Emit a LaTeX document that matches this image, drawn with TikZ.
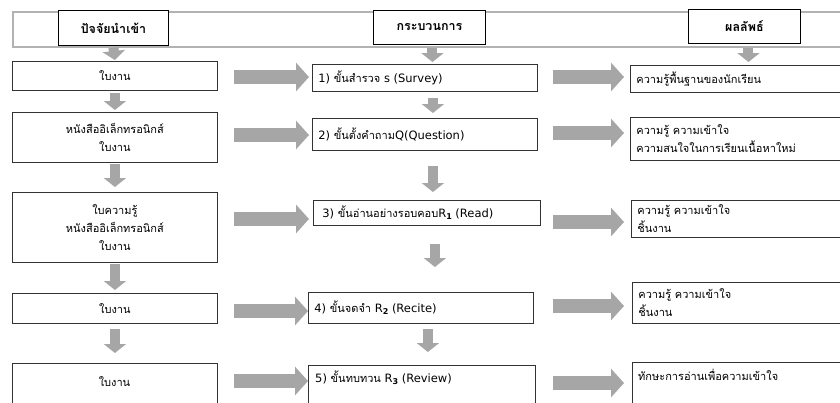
\documentclass[tikz,border=0pt]{standalone}
\usepackage{fontspec}
\setmainfont[Script=Thai]{Loma}
\newfontfamily\latfont{DejaVu Sans}
\newcommand{\lat}[1]{{\latfont\fontsize{11.5}{18}\selectfont #1}}
\newcommand{\subn}[1]{\raisebox{-2.2pt}{\latfont\fontsize{8}{8}\selectfont\bfseries #1}}
\usetikzlibrary{arrows.meta}
\definecolor{agray}{HTML}{A6A6A6}
\begin{document}
\begin{tikzpicture}[x=1pt,y=-1pt,
  box/.style={draw=black!80, line width=0.8pt, fill=white, inner sep=0pt, anchor=north west,
    font=\fontsize{11}{18}\selectfont},
  cbox/.style={box, align=center},
  lbox/.style={box, align=left, text width=#1, inner xsep=6pt},
  hdr/.style={draw=black, line width=0.9pt, fill=white, inner sep=0pt, anchor=north west,
    font=\fontsize{12.5}{15}\selectfont\bfseries},
  txt/.style={inner sep=0pt, font=\fontsize{11}{18}\selectfont},
  harrow/.style={draw=agray, line width=14pt, -{Triangle[length=13pt,width=28pt]}},
  varrow/.style={draw=agray, line width=10pt, -{Triangle[length=9pt,width=22pt]}},
]
\useasboundingbox (0,0) rectangle (840,402);
\clip (0,0) rectangle (840,402);
\fill[white] (0,0) rectangle (840,402);

% banner and headers
\node[draw=gray!60, line width=1.6pt, anchor=north west, minimum width=840pt, minimum height=35pt, inner sep=0pt] (banner) at (12,11) {};
\node[hdr, minimum width=110pt, minimum height=35pt] (h1) at (58,10) {ปัจจัยนำเข้า};
\node[hdr, minimum width=112pt, minimum height=34pt] (h2) at (373,10) {กระบวนการ};
\node[hdr, minimum width=112pt, minimum height=34pt] (h3) at (688,9) {ผลลัพธ์};

% left column
\node[cbox, minimum width=205pt, minimum height=29pt] (l1) at (12,61) {ใบงาน};
\node[cbox, minimum width=205pt, minimum height=50pt] (l2) at (12,112) {หนังสืออิเล็กทรอนิกส์\\ใบงาน};
\node[cbox, minimum width=205pt, minimum height=70pt] (l3) at (12,192) {ใบความรู้\\หนังสืออิเล็กทรอนิกส์\\ใบงาน};
\node[cbox, minimum width=205pt, minimum height=30pt] (l4) at (12,293) {ใบงาน};
\node[cbox, minimum width=205pt, minimum height=60pt] (l5) at (12,363) {};
\node[txt] (l5t) at (114.5,382) {ใบงาน};

% middle column
\node[lbox=213pt, minimum height=27pt] (m1) at (312,64) {\lat{1)} ขั้นสำรวจ \lat{s (Survey)}};
\node[lbox=213pt, minimum height=32pt] (m2) at (312,118) {\lat{2)} ขั้นตั้งคำถาม\lat{Q(Question)}};
\node[lbox=209pt, minimum height=25pt, inner xsep=9pt] (m3) at (313,200) {\lat{3)} ขั้นอ่านอย่างรอบคอบ\lat{R\subn{1} (Read)}};
\node[lbox=213pt, minimum height=31pt] (m4) at (308,292) {\lat{4)} ขั้นจดจำ \lat{R\subn{2} (Recite)}};
\node[box, minimum width=227pt, minimum height=60pt] (m5) at (308,365) {};
\node[txt, anchor=west] (m5t) at (315,378) {\lat{5)} ขั้นทบทวน \lat{R\subn{3} (Review)}};

% right column
\node[lbox=220pt, minimum height=27pt] (r1) at (630,65) {ความรู้พื้นฐานของนักเรียน};
\node[lbox=220pt, minimum height=43pt] (r2) at (630,117) {ความรู้ ความเข้าใจ\\ความสนใจในการเรียนเนื้อหาใหม่};
\node[lbox=220pt, minimum height=37pt] (r3) at (631,200) {ความรู้ ความเข้าใจ\\ชิ้นงาน};
\node[lbox=220pt, minimum height=41pt] (r4) at (632,282) {ความรู้ ความเข้าใจ\\ชิ้นงาน};
\node[box, minimum width=230pt, minimum height=60pt] (r5) at (632,362) {};
\node[txt, anchor=west] (r5t) at (638,375) {ทักษะการอ่านเพื่อความเข้าใจ};

% header down arrows
\draw[varrow, shorten >=1pt] (h1.south |- banner.south) -- (l1.north);
\draw[varrow, shorten >=2pt] ([xshift=3pt]h2.south |- banner.south) -- ([xshift=3pt]h2.south |- m1.north);
\draw[varrow, shorten >=3pt] ([xshift=4pt]h3.south |- banner.south) -- ([xshift=4pt]h3.south |- r1.north);

% left down arrows
\draw[varrow, shorten <=2pt, shorten >=2pt] (l1.south) -- (l2.north);
\draw[varrow, shorten <=1pt, shorten >=5pt] (l2.south) -- (l3.north);
\draw[varrow, shorten <=1pt, shorten >=3pt] (l3.south) -- (l4.north);
\draw[varrow, shorten <=5pt, shorten >=10pt] (l4.south) -- (l5.north);

% middle down arrows
\draw[varrow, shorten <=6pt, shorten >=5pt] ([xshift=8pt]m1.south) -- ([xshift=8pt]m1.south |- m2.north);
\draw[varrow, shorten <=15pt, shorten >=8pt] ([xshift=8pt]m2.south) -- ([xshift=8pt]m2.south |- m3.north);
\draw[varrow, shorten <=18pt, shorten >=25pt] ([xshift=8pt]m3.south) -- ([xshift=8pt]m3.south |- m4.north);
\draw[varrow, shorten <=5pt, shorten >=13pt] ([xshift=7pt]m4.south) -- ([xshift=7pt]m4.south |- m5.north);

% left -> middle arrows
\draw[harrow, shorten <=16pt, shorten >=3pt] (l1.east |- 0,77) -- (m1.west |- 0,77);
\draw[harrow, shorten <=16pt, shorten >=3pt] (l2.east |- 0,135) -- (m2.west |- 0,135);
\draw[harrow, shorten <=16pt, shorten >=4pt] (l3.east |- 0,219) -- (m3.west |- 0,219);
\draw[harrow, shorten <=16pt, shorten >=0pt] (l4.east |- 0,311) -- (m4.west |- 0,311);
\draw[harrow, shorten <=16pt, shorten >=0pt] (l5.east |- 0,381) -- (m5.west |- 0,381);

% middle -> right arrows
\draw[harrow, shorten <=15pt, shorten >=6pt] (m1.east |- 0,77) -- (r1.west |- 0,77);
\draw[harrow, shorten <=15pt, shorten >=6pt] (m2.east |- 0,133) -- (r2.west |- 0,133);
\draw[harrow, shorten <=12pt, shorten >=7pt] (m3.east |- 0,222) -- (r3.west |- 0,222);
\draw[harrow, shorten <=19pt, shorten >=8pt] (m4.east |- 0,306) -- (r4.west |- 0,306);
\draw[harrow, shorten <=17pt, shorten >=8pt] (m5.east |- 0,383) -- (r5.west |- 0,383);
\end{tikzpicture}
\end{document}
